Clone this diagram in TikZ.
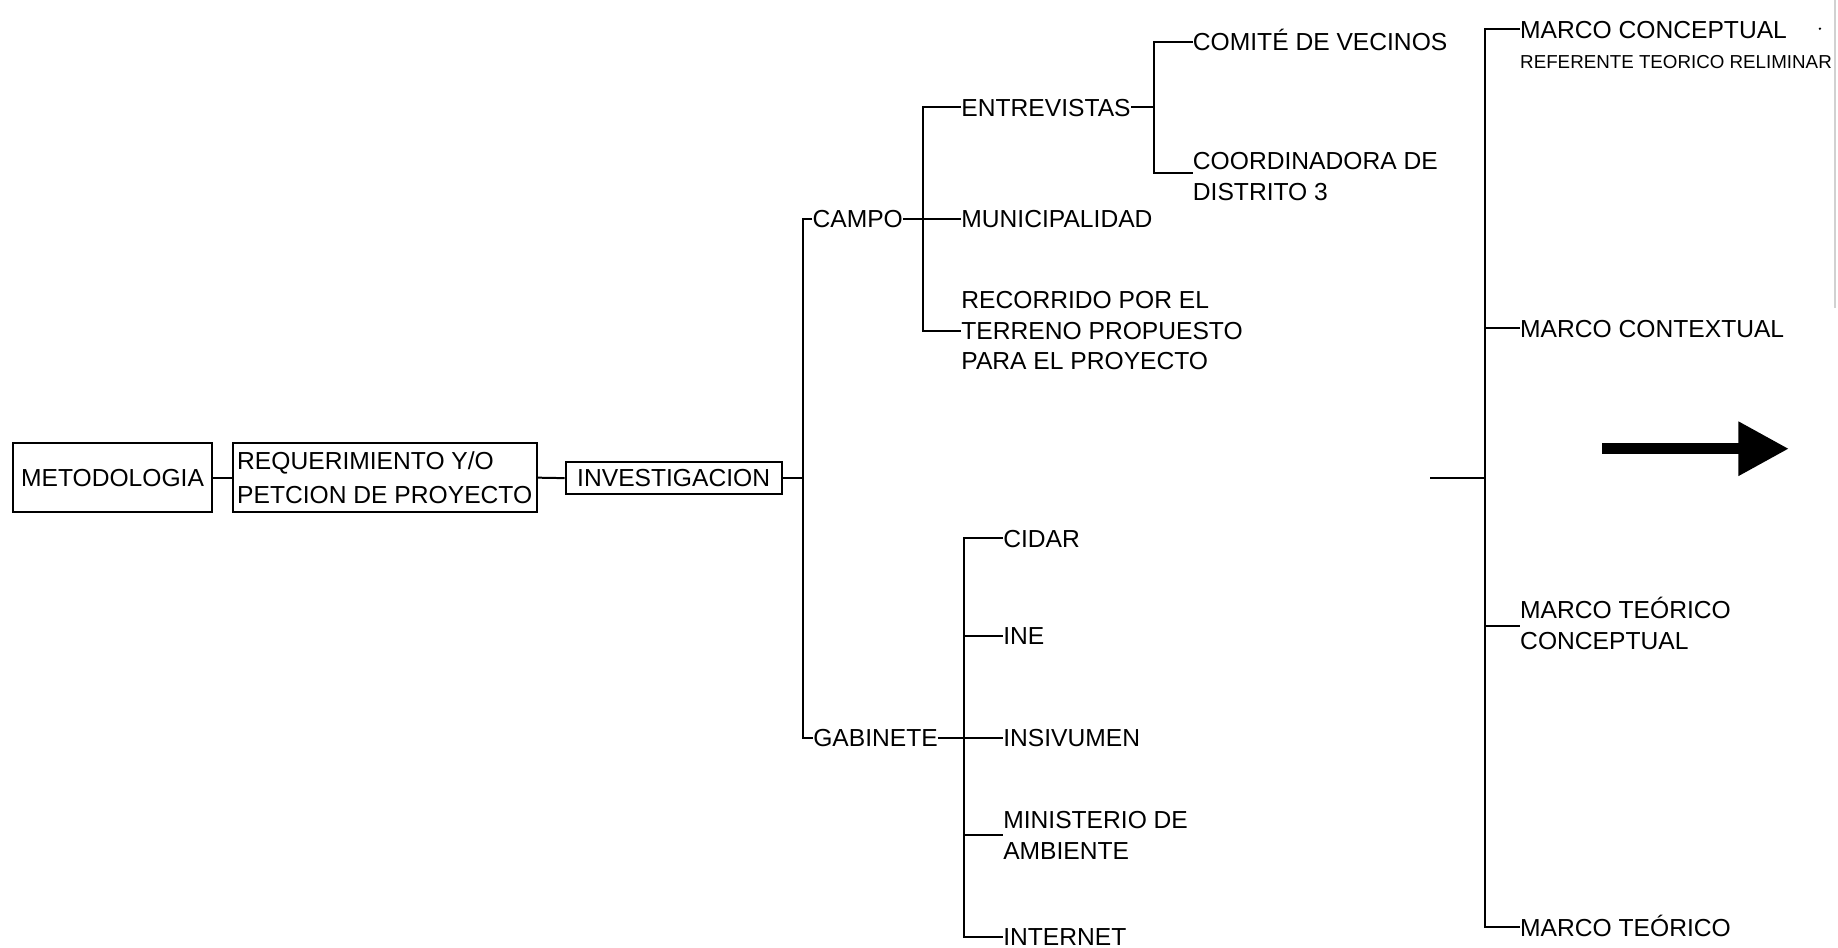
\documentclass[tikz,border=0pt]{standalone}
\usepackage{fontspec}
\setmainfont{Liberation Sans}
\usetikzlibrary{arrows.meta}
\begin{document}
\begin{tikzpicture}[x=1pt,y=-1pt,
  every node/.style={inner sep=0pt, font=\fontsize{21}{26}\selectfont},
  lbl/.style={anchor=west, text height=15pt, text depth=0pt},
  ml/.style={anchor=base west},
  boxnode/.style={draw, line width=1.7pt},
  conn/.style={line width=1.7pt},
  thinconn/.style={line width=1.3pt},
  small/.style={anchor=west, font=\fontsize{16}{19}\selectfont, text height=11.5pt, text depth=0pt}
]
\fill[white] (0,0) rectangle (1568,808);
\useasboundingbox (0,0) rectangle (1568,808);

% ---- boxes ----
\node[boxnode, minimum width=169pt, minimum height=59.4pt, text height=15pt, text depth=0pt] (met) at (96,407.5) {METODOLOGIA};
\node[boxnode, minimum width=259.3pt, minimum height=59.4pt, align=left, font=\fontsize{21}{28.5}\selectfont] (req) at (328.2,407.5) {REQUERIMIENTO Y/O\\PETCION DE PROYECTO};
\node[boxnode, minimum width=184.2pt, minimum height=27pt, text height=15pt, text depth=0pt] (inv) at (574.7,407.9) {INVESTIGACION};

\draw[conn] (met.east) -- (req.west);
\draw[conn] (req.east) -- (inv.west);

% ---- first trunk ----
\coordinate (v1m) at (685.3,407.9);
\coordinate (v1t) at (685.3,186.8);
\coordinate (v1b) at (685.3,629.3);
\draw[conn] (inv.east) -- (v1m);

\node[lbl] (campo) at (693,186.8) {CAMPO};
\node[lbl] (gab) at (693.6,629.3) {GABINETE};
\draw[conn] (campo.west) -- (v1t) -- (v1b) -- (gab.west);

% ---- CAMPO branch ----
\coordinate (v2t) at (787,91.6);
\coordinate (v2b) at (787,282);
\node[lbl] (ent) at (820,91.6) {ENTREVISTAS};
\node[lbl] (mun) at (820,186.8) {MUNICIPALIDAD};
\node[ml] (rec) at (820,263.5) {\begin{tabular}[t]{@{}l@{}}RECORRIDO POR EL\\TERRENO PROPUESTO\\PARA EL PROYECTO\end{tabular}};
\draw[conn] (ent.west) -- (v2t) -- (v2b) -- (v2b -| rec.west);
\draw[conn] (campo.east) -- (mun.west);

% ---- ENTREVISTAS branch ----
\coordinate (v3m) at (984.5,91.6);
\coordinate (v3t) at (984.5,35.5);
\coordinate (v3b) at (984.5,147.9);
\node[lbl] (com) at (1017.5,35.5) {COMITÉ DE VECINOS};
\node[ml] (coo) at (1017.5,144.8) {\begin{tabular}[t]{@{}l@{}}COORDINADORA DE\\DISTRITO 3\end{tabular}};
\draw[conn] (ent.east) -- (v3m);
\draw[conn] (com.west) -- (v3t) -- (v3b) -- (v3b -| coo.west);

% ---- GABINETE branch ----
\coordinate (v4t) at (822.7,459.2);
\coordinate (v4b) at (822.7,799);
\node[lbl] (cid) at (855.7,459.2) {CIDAR};
\node[lbl] (ine) at (855.7,542.3) {INE};
\node[lbl] (ins) at (855.7,629.3) {INSIVUMEN};
\node[ml] (min) at (855.7,707) {\begin{tabular}[t]{@{}l@{}}MINISTERIO DE\\AMBIENTE\end{tabular}};
\node[lbl] (itn) at (855.7,799) {INTERNET};
\coordinate (v4i) at (822.7,542.3);
\coordinate (v4m) at (822.7,712.3);
\draw[conn] (cid.west) -- (v4t) -- (v4b) -- (itn.west);
\draw[conn] (gab.east) -- (ins.west);
\draw[conn] (v4i) -- (ine.west);
\draw[conn] (v4m) -- (v4m -| min.west);

% ---- right trunk ----
\coordinate (free) at (1220,407.9);
\coordinate (v5m) at (1266.8,407.9);
\coordinate (v5t) at (1266.8,25);
\coordinate (v5b) at (1266.8,791);
\coordinate (v5c) at (1266.8,280.1);
\coordinate (v5d) at (1266.8,534);
\draw[thinconn] (free) -- (v5m);

\node[lbl] (mc) at (1296.7,25) {MARCO CONCEPTUAL};
\node[small] (ref) at (1296.7,52.6) {REFERENTE TEORICO RELIMINAR};
\node[lbl] (mx) at (1296.7,280.1) {MARCO CONTEXTUAL};
\node[ml] (mtc) at (1296.7,527.9) {\begin{tabular}[t]{@{}l@{}}MARCO TEÓRICO\\CONCEPTUAL\end{tabular}};
\node[lbl] (mt) at (1296.7,791) {MARCO TEÓRICO};
\draw[conn] (mc.west) -- (v5t) -- (v5b) -- (mt.west);
\draw[conn] (v5c) -- (mx.west);
\draw[conn] (v5d) -- (v5d -| mtc.west);

% small dot and faint edge
\coordinate (dot) at (1552.6,24.5);
\fill (dot) circle (1.1pt);
\coordinate (edgeT) at (1565.4,0);
\coordinate (edgeB) at (1565.4,263);
\draw[black!18, line width=1pt] (edgeT) -- (edgeB);

% ---- big arrow ----
\coordinate (arrS) at (1367,382.8);
\coordinate (arrE) at (1526,382.8);
\draw[line width=9.3pt, -{Triangle[length=43pt, width=44pt]}] (arrS) -- (arrE);
\end{tikzpicture}
\end{document}
